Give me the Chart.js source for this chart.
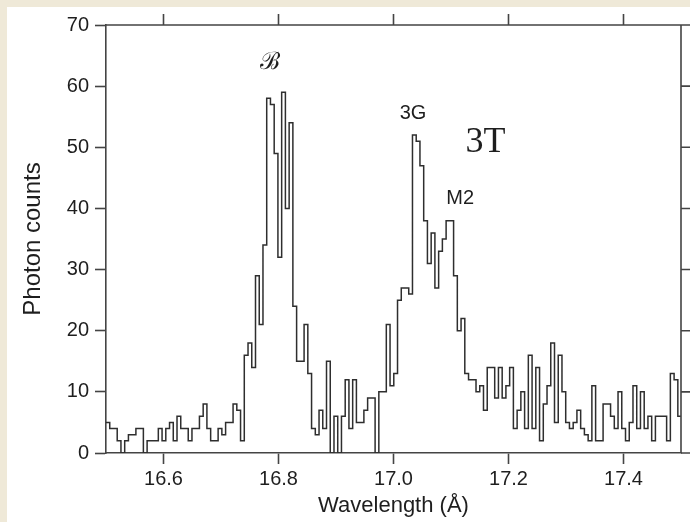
<!DOCTYPE html>
<html>
<head>
<meta charset="utf-8">
<script src="https://cdn.jsdelivr.net/npm/chart.js@4/dist/chart.umd.min.js"></script>
<style>
  html, body { margin: 0; padding: 0; background: #efe9d8; overflow: hidden; }
  #wrap { position: absolute; left: 7px; top: 7px; width: 683px; height: 515px; background: #ffffff; }
  canvas { display: block; }
</style>
</head>
<body>
<div id="wrap"><canvas id="chart" width="683" height="515"></canvas></div>
<script>
// Histogram binning (Å)
const binStart = 16.5;
const binWidth = 0.0065;

// Photon counts per wavelength bin
const counts = [
  5, 4, 4, 2, 0, 2, 3, 3, 4, 4,
  0, 2, 2, 2, 4, 2, 4, 5, 2, 6,
  4, 4, 2, 4, 4, 6, 8, 4, 2, 2,
  4, 3, 5, 5, 8, 7, 2, 16, 18, 14,
  29, 21, 34, 58, 57, 49, 32, 59, 40, 54,
  24, 15, 15, 21, 13, 4, 3, 7, 4, 15,
  0, 6, 0, 6, 12, 4, 12, 5, 5, 7,
  9, 9, 0, 10, 10, 21, 11, 13, 25, 27,
  27, 26, 52, 51, 47, 38, 31, 36, 27, 33,
  35, 38, 38, 29, 20, 22, 13, 12, 12, 10,
  11, 7, 14, 14, 9, 14, 9, 11, 14, 4,
  7, 10, 4, 16, 4, 14, 2, 8, 11, 18,
  5, 16, 10, 5, 4, 5, 7, 4, 3, 2,
  11, 2, 2, 8, 8, 6, 4, 10, 4, 2,
  5, 11, 4, 10, 4, 6, 2, 6, 6, 6,
  2, 13, 12, 6
];

// Axis ticks
const xTicks = [16.6, 16.8, 17.0, 17.2, 17.4];
const yTicks = [0, 10, 20, 30, 40, 50, 60, 70];

// Line identifications
const lineLabels = ['\u212C', '3G', '3T', 'M2'];
const lineLabelX = [16.786, 17.034, 17.160, 17.116];
const lineLabelY = [63.8, 55.5, 50.7, 41.6];
const lineLabelFont = [
  '24px "DejaVu Serif", serif',
  '20px "Liberation Sans", Arial, sans-serif',
  '36px "Liberation Serif", "Times New Roman", serif',
  '20px "Liberation Sans", Arial, sans-serif'
];

const axisColor = '#444444';
const textColor = '#1e1e1e';
const sans = '"Liberation Sans", Arial, Helvetica, sans-serif';

// Step points at the left edge of each bin, plus the closing right edge
const points = counts.map((v, i) => ({ x: binStart + i * binWidth, y: v }));
points.push({ x: binStart + counts.length * binWidth, y: counts[counts.length - 1] });

// Frame on the top and right sides with outward ticks
const framePlugin = {
  id: 'frame',
  afterDraw(chart) {
    const { ctx, chartArea: a, scales: { x, y } } = chart;
    ctx.save();
    ctx.strokeStyle = axisColor;
    ctx.lineWidth = 1.6;
    ctx.beginPath();
    ctx.moveTo(a.left, a.top);
    ctx.lineTo(a.right, a.top);
    ctx.moveTo(a.right, a.top);
    ctx.lineTo(a.right, a.bottom);
    xTicks.forEach(v => {
      const px = x.getPixelForValue(v);
      ctx.moveTo(px, a.top);
      ctx.lineTo(px, a.top - 11);
    });
    yTicks.forEach(v => {
      const py = y.getPixelForValue(v);
      ctx.moveTo(a.right, py);
      ctx.lineTo(a.right + 11, py);
    });
    ctx.stroke();
    ctx.restore();
  }
};

// Line identification labels
const labelPlugin = {
  id: 'lineLabels',
  afterDraw(chart) {
    const { ctx, scales: { x, y } } = chart;
    ctx.save();
    ctx.fillStyle = textColor;
    ctx.textAlign = 'center';
    ctx.textBaseline = 'middle';
    lineLabels.forEach((t, i) => {
      ctx.font = lineLabelFont[i];
      ctx.fillText(t, x.getPixelForValue(lineLabelX[i]), y.getPixelForValue(lineLabelY[i]));
    });
    ctx.restore();
  }
};

new Chart(document.getElementById('chart'), {
  type: 'line',
  data: {
    datasets: [{
      data: points,
      stepped: 'before',
      borderColor: '#2e2e2e',
      borderWidth: 1.5,
      pointRadius: 0,
      fill: false,
      tension: 0
    }]
  },
  options: {
    responsive: false,
    animation: false,
    events: [],
    layout: { padding: { top: 17, right: 9, left: 0, bottom: 0 } },
    plugins: { legend: { display: false }, tooltip: { enabled: false } },
    scales: {
      x: {
        type: 'linear',
        min: 16.5,
        max: 17.5,
        afterBuildTicks: s => { s.ticks = xTicks.map(v => ({ value: v })); },
        afterFit: s => { s.height = 69; },
        grid: { drawOnChartArea: false, drawTicks: true, tickLength: 11, tickWidth: 1.6, tickColor: axisColor },
        border: { display: true, color: axisColor, width: 1.6 },
        ticks: {
          color: textColor, padding: 3, maxRotation: 0, autoSkip: false,
          font: { family: sans, size: 20 },
          callback: v => Number(v).toFixed(1)
        },
        title: {
          display: true, text: 'Wavelength (Å)', color: textColor,
          font: { family: sans, size: 22 }, padding: { top: 0, bottom: 3 }
        }
      },
      y: {
        min: 0,
        max: 70,
        afterBuildTicks: s => { s.ticks = yTicks.map(v => ({ value: v })); },
        afterFit: s => { s.width = 99; },
        grid: { drawOnChartArea: false, drawTicks: true, tickLength: 11, tickWidth: 1.6, tickColor: axisColor },
        border: { display: true, color: axisColor, width: 1.6 },
        ticks: {
          color: textColor, padding: 6,
          font: { family: sans, size: 20 },
          callback: v => String(v)
        },
        title: {
          display: true, text: 'Photon counts', color: textColor,
          font: { family: sans, size: 24 }, padding: { top: 12, bottom: 0 }
        }
      }
    }
  },
  plugins: [framePlugin, labelPlugin]
});
</script>
</body>
</html>
